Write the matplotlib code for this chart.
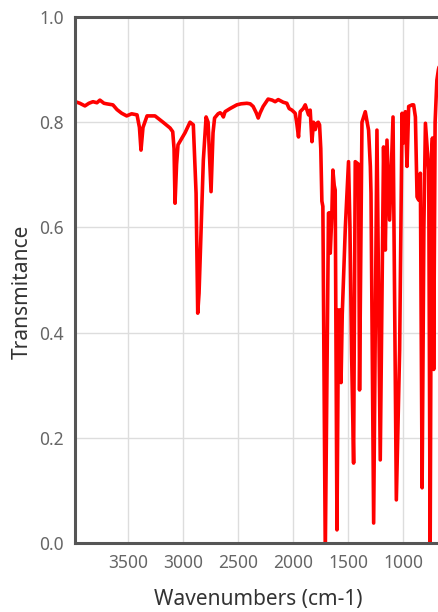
import matplotlib
matplotlib.use('Agg')
import matplotlib.pyplot as plt

plt.rcParams['font.family'] = ['Noto Sans', 'DejaVu Sans']

# IR spectrum (wavenumber in cm-1, transmittance)
wavenumbers = [
    3977, 3937, 3891, 3855, 3818, 3782, 3755, 3718, 3694, 3664,
    3637, 3600, 3557, 3512, 3467, 3418, 3396, 3382, 3364, 3327,
    3255, 3182, 3118, 3094, 3082, 3073, 3059, 3046, 2982, 2937,
    2907, 2882, 2867, 2855, 2816, 2791, 2773, 2746, 2728, 2714,
    2682, 2664, 2646, 2634, 2619, 2573, 2512, 2473, 2421, 2391,
    2364, 2336, 2318, 2300, 2273, 2228, 2191, 2164, 2136, 2118,
    2091, 2058, 2037, 2012, 1982, 1969, 1952, 1937, 1909, 1891,
    1878, 1861, 1846, 1830, 1816, 1800, 1785, 1773, 1761, 1750,
    1740, 1731, 1709, 1692, 1680, 1673, 1664, 1650, 1640, 1628,
    1619, 1603, 1589, 1573, 1566, 1555, 1527, 1498, 1485, 1470,
    1452, 1437, 1407, 1398, 1376, 1346, 1316, 1300, 1294, 1270,
    1240, 1210, 1180, 1164, 1149, 1125, 1094, 1064, 1034, 1012,
    1003, 982, 967, 952, 921, 907, 891, 876, 861, 846,
    830, 814, 800, 770, 757, 744, 736, 725, 712, 696,
    682, 660,
]
transmittance = [
    0.839, 0.836, 0.831, 0.836, 0.839, 0.837, 0.842, 0.836, 0.835, 0.834,
    0.833, 0.824, 0.817, 0.812, 0.816, 0.814, 0.790, 0.747, 0.790, 0.812,
    0.812, 0.800, 0.789, 0.782, 0.750, 0.646, 0.720, 0.757, 0.780, 0.800,
    0.795, 0.665, 0.437, 0.475, 0.728, 0.810, 0.800, 0.668, 0.780, 0.808,
    0.816, 0.818, 0.815, 0.810, 0.820, 0.826, 0.833, 0.835, 0.836, 0.835,
    0.830, 0.818, 0.808, 0.818, 0.830, 0.844, 0.842, 0.839, 0.843, 0.841,
    0.838, 0.836, 0.826, 0.823, 0.817, 0.800, 0.772, 0.820, 0.826, 0.833,
    0.825, 0.814, 0.823, 0.763, 0.800, 0.786, 0.798, 0.800, 0.795, 0.750,
    0.650, 0.640, -0.020, 0.350, 0.627, 0.628, 0.551, 0.620, 0.709, 0.680,
    0.671, 0.025, 0.443, 0.443, 0.305, 0.435, 0.600, 0.725, 0.600, 0.360,
    0.152, 0.725, 0.720, 0.291, 0.800, 0.820, 0.785, 0.716, 0.665, 0.038,
    0.785, 0.158, 0.753, 0.557, 0.766, 0.614, 0.810, 0.082, 0.367, 0.817,
    0.760, 0.820, 0.716, 0.830, 0.833, 0.833, 0.810, 0.658, 0.652, 0.703,
    0.105, 0.600, 0.798, 0.709, -0.020, 0.740, 0.770, 0.330, 0.800, 0.880,
    0.900, 0.920,
]

x_ticks = [3500, 3000, 2500, 2000, 1500, 1000]
y_ticks = [0.0, 0.2, 0.4, 0.6, 0.8, 1.0]

fig = plt.figure(figsize=(4.38, 6.12), dpi=100)
# axes runs past the right edge, the reference is cropped there
ax = fig.add_axes([0.171, 0.1127, 0.838, 0.8595])

ax.plot(wavenumbers, transmittance, color='#ff0000', linewidth=2.6,
        solid_joinstyle='round', solid_capstyle='round')

ax.set_xlim(3982, 650)
ax.set_ylim(0, 1)
ax.set_xticks(x_ticks)
ax.set_yticks(y_ticks)
ax.set_yticklabels([f'{v:.1f}' for v in y_ticks])

ax.grid(True, color='#dddddd', linewidth=1.0)
ax.set_axisbelow(True)
ax.tick_params(length=0, pad=8, labelsize=12.5, labelcolor='#666666')

for side in ['left', 'bottom', 'top']:
    ax.spines[side].set_color('#555555')
    ax.spines[side].set_linewidth(2.2)
ax.spines['right'].set_visible(False)

ax.set_xlabel('Wavenumbers (cm-1)', fontsize=15, color='#333333', labelpad=12)
ax.set_ylabel('Transmitance', fontsize=15, color='#333333')
ax.yaxis.set_label_coords(-0.115, 0.477)

plt.savefig('out.png', dpi=100)
